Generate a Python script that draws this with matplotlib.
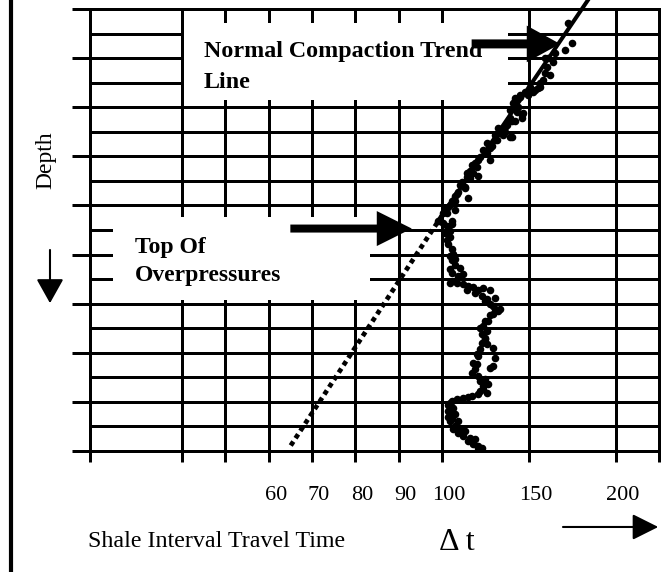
import numpy as np
import matplotlib
matplotlib.use("Agg")
from matplotlib import pyplot as plt
from matplotlib.patches import Rectangle
from matplotlib.lines import Line2D
from matplotlib.transforms import ScaledTranslation

plt.rcParams["font.family"] = ["Liberation Serif", "DejaVu Serif"]

# shale interval travel time (dt) against depth, one depth unit per major grid line
dt_points = [
    172.7, 175.0, 171.0, 165.2, 161.2, 159.4, 160.6, 159.4, 162.3, 156.5,
    156.5, 155.4, 150.8, 152.5, 147.9, 145.0, 145.0, 142.1, 142.1, 141.0,
    143.8, 146.7, 146.2, 143.3, 146.2, 139.2, 140.4, 142.1, 136.3, 137.5,
    133.5, 133.5, 135.2, 139.2, 140.4, 131.7, 130.6, 128.8, 127.7, 126.0,
    124.8, 121.9, 127.7, 119.0, 120.2, 116.2, 117.9, 114.4, 120.8, 114.4,
    115.0, 111.5, 113.3, 113.3, 109.2, 108.7, 115.0, 107.5, 105.8, 103.5,
    107.5, 102.9, 100.6, 99.1, 99.5, 105.8, 102.9, 100.6, 105.8, 101.7,
    104.6, 103.5, 104.6, 103.5, 105.8, 106.3, 105.8, 107.5, 110.4, 105.8,
    109.2, 112.1, 104.6, 108.7, 112.1, 115.0, 117.9, 120.8, 123.7, 127.7,
    123.1, 126.0, 130.6, 127.7, 130.6, 132.3, 133.5, 129.4, 126.5, 124.8,
    121.9, 123.1, 124.8, 124.8, 126.0, 129.4, 121.9, 120.2, 130.6, 117.9,
    120.2, 127.7, 129.4, 117.3, 120.8, 124.8, 126.5, 123.7, 126.0, 120.8,
    117.3, 112.1, 108.7, 105.8, 106.3, 104.6, 107.5, 105.8, 109.2, 107.5,
    110.4, 113.3, 112.1, 116.2, 119.0, 117.9, 120.8, 123.1, 103.5, 104.6,
    103.5, 104.6, 164.0, 158.3, 153.7, 149.6, 139.2, 138.1, 132.3, 136.3,
    130.6, 126.0, 123.7, 120.8, 117.3, 116.2, 110.4, 107.5, 104.6, 101.7,
    102.9, 104.6, 107.5, 104.6, 107.5, 114.4, 119.0, 124.8, 129.4, 127.7,
    123.7, 126.0, 123.1, 120.8, 119.0, 121.9, 123.7, 121.9, 115.0, 104.6,
    103.5, 104.6, 106.3, 109.2, 115.0, 120.8,
]
depth_points = [
    0.29, 0.69, 0.84, 0.90, 1.00, 1.00, 1.18, 1.31, 1.35, 1.51,
    1.59, 1.61, 1.59, 1.69, 1.69, 1.76, 1.80, 1.82, 1.86, 1.92,
    2.00, 2.12, 2.16, 2.10, 2.22, 2.22, 2.27, 2.27, 2.41, 2.37,
    2.47, 2.53, 2.57, 2.61, 2.61, 2.67, 2.67, 2.78, 2.82, 2.94,
    2.92, 3.02, 3.08, 3.14, 3.22, 3.29, 3.33, 3.33, 3.39, 3.43,
    3.45, 3.53, 3.63, 3.65, 3.73, 3.76, 3.84, 3.90, 3.90, 4.04,
    4.10, 4.16, 4.16, 4.31, 4.31, 4.31, 4.41, 4.35, 4.37, 4.57,
    4.51, 4.51, 4.65, 4.78, 4.88, 4.98, 5.12, 5.22, 5.27, 5.37,
    5.43, 5.39, 5.57, 5.57, 5.59, 5.63, 5.67, 5.73, 5.69, 5.73,
    5.84, 5.90, 5.88, 6.00, 6.10, 6.14, 6.10, 6.20, 6.35, 6.35,
    6.49, 6.61, 6.69, 6.71, 6.82, 6.90, 6.92, 7.02, 7.10, 7.20,
    7.22, 7.31, 7.27, 7.41, 7.47, 7.53, 7.63, 7.73, 7.82, 7.84,
    7.88, 7.92, 7.94, 7.98, 8.12, 8.22, 8.24, 8.35, 8.39, 8.49,
    8.55, 8.59, 8.69, 8.73, 8.76, 8.86, 8.90, 8.94, 8.06, 8.16,
    8.30, 8.02, 1.08, 1.45, 1.65, 1.76, 2.06, 2.31, 2.43, 2.51,
    2.57, 2.73, 2.88, 3.08, 3.18, 3.45, 3.59, 3.80, 4.00, 4.10,
    4.71, 5.02, 5.08, 5.29, 5.53, 5.73, 5.78, 5.94, 6.04, 6.24,
    6.45, 6.55, 6.80, 7.06, 7.33, 7.57, 7.67, 7.78, 7.90, 8.08,
    8.18, 8.39, 8.55, 8.63, 8.80, 8.94,
]

# normal compaction trend: solid where fitted, dotted where extrapolated
trend_dt = [184, 100]
trend_depth = [-0.18, 4.2]
trend_ext_dt = [100, 65]
trend_ext_depth = [4.2, 8.9]

tick_values = [18.8, 40, 50, 60, 70, 80, 90, 100, 150, 200, 225]
tick_labels = ["", "", "", "60", "70", "80", "90", "100", "150", "200", ""]
depth_major = np.arange(0, 10)
depth_minor = np.arange(0.5, 9, 1)


def fwd(v):
    v = np.asarray(v, dtype=float)
    return np.where(v <= 100, v, 100 + 0.4 * (v - 100))


def inv(u):
    u = np.asarray(u, dtype=float)
    return np.where(u <= 100, u, 100 + (u - 100) / 0.4)


LW = 2.16

fig = plt.figure(figsize=(6.71, 5.72), dpi=100)
ax = fig.add_axes([0.1341, 0.2115, 0.848, 0.7727])
ax.set_xscale("function", functions=(fwd, inv))
ax.set_xlim(18.8, 225)
ax.set_ylim(9, 0)

ax.set_xticks(tick_values, labels=tick_labels)
ax.set_yticks(depth_major)
ax.set_yticks(depth_minor, minor=True)
ax.tick_params(axis="x", which="major", direction="out", length=8, width=LW,
               pad=17, labelsize=16)
ax.tick_params(axis="y", which="major", direction="out", length=13, width=LW,
               labelleft=False)
ax.tick_params(axis="y", which="minor", length=0)
offset = ScaledTranslation(0.07, 0, fig.dpi_scale_trans)
for lab in ax.get_xticklabels():
    lab.set_transform(lab.get_transform() + offset)

for sp in ax.spines.values():
    sp.set_linewidth(LW)
ax.set_axisbelow(True)
ax.grid(True, which="major", axis="x", color="black", lw=LW)
ax.grid(True, which="both", axis="y", color="black", lw=LW)

# white label boxes cut the grid
ax.add_patch(Rectangle((0.165, 0.794), 0.570, 0.174, transform=ax.transAxes,
                       facecolor="white", edgecolor="none", zorder=2))
ax.add_patch(Rectangle((0.040, 0.342), 0.452, 0.187, transform=ax.transAxes,
                       facecolor="white", edgecolor="none", zorder=2))

ax.plot(trend_dt, trend_depth, color="black", lw=2.9, zorder=3, clip_on=False)
ax.plot(trend_ext_dt, trend_ext_depth, color="black", lw=3.4,
        linestyle=(0, (1, 0.85)), dash_capstyle="butt", zorder=3)
ax.scatter(dt_points, depth_points, s=30, color="black", linewidths=0, zorder=4)

tf = fig.transFigure
ax.text(0.304, 0.9003, "Normal Compaction Trend", fontsize=17.3,
        fontweight="bold", va="baseline", transform=tf, zorder=3)
ax.text(0.304, 0.8462, "Line", fontsize=17.3, fontweight="bold", va="baseline",
        transform=tf, zorder=3)
ax.text(0.2012, 0.5577, "Top Of", fontsize=17, fontweight="bold",
        va="baseline", transform=tf, zorder=3)
ax.text(0.2012, 0.5087, "Overpressures", fontsize=17, fontweight="bold",
        va="baseline", transform=tf, zorder=3)

ax.annotate("", xy=(168, 0.71), xytext=(117, 0.71), annotation_clip=False,
            arrowprops=dict(arrowstyle="simple,head_length=1.0,head_width=1.1,tail_width=0.27",
                            color="black", lw=0, mutation_scale=24,
                            shrinkA=0, shrinkB=0), zorder=5)
ax.annotate("", xy=(93, 4.47), xytext=(65, 4.47), annotation_clip=False,
            arrowprops=dict(arrowstyle="simple,head_length=1.05,head_width=1.05,tail_width=0.24",
                            color="black", lw=0, mutation_scale=24,
                            shrinkA=0, shrinkB=0), zorder=5)

fig.text(0.069, 0.720, "Depth", fontsize=17, rotation=90, ha="center", va="center")
fig.text(0.131, 0.0437, "Shale Interval Travel Time", fontsize=17.3, va="baseline")
fig.text(0.681, 0.0385, "\u0394 t", fontsize=23, ha="center", va="baseline")

fig.add_artist(Line2D([0.0164, 0.0164], [0, 1], transform=fig.transFigure,
                      color="black", lw=3))
ax.annotate("", xy=(0.0745, 0.470), xytext=(0.0745, 0.563),
            xycoords="figure fraction", textcoords="figure fraction",
            arrowprops=dict(arrowstyle="-|>,head_length=0.75,head_width=0.42",
                            color="black", lw=1.5, mutation_scale=20,
                            shrinkA=0, shrinkB=0))
ax.annotate("", xy=(0.981, 0.0787), xytext=(0.839, 0.0787),
            xycoords="figure fraction", textcoords="figure fraction",
            arrowprops=dict(arrowstyle="-|>,head_length=0.8,head_width=0.4",
                            color="black", lw=1.5, mutation_scale=20,
                            shrinkA=0, shrinkB=0))

fig.savefig("out.png", dpi=100)
